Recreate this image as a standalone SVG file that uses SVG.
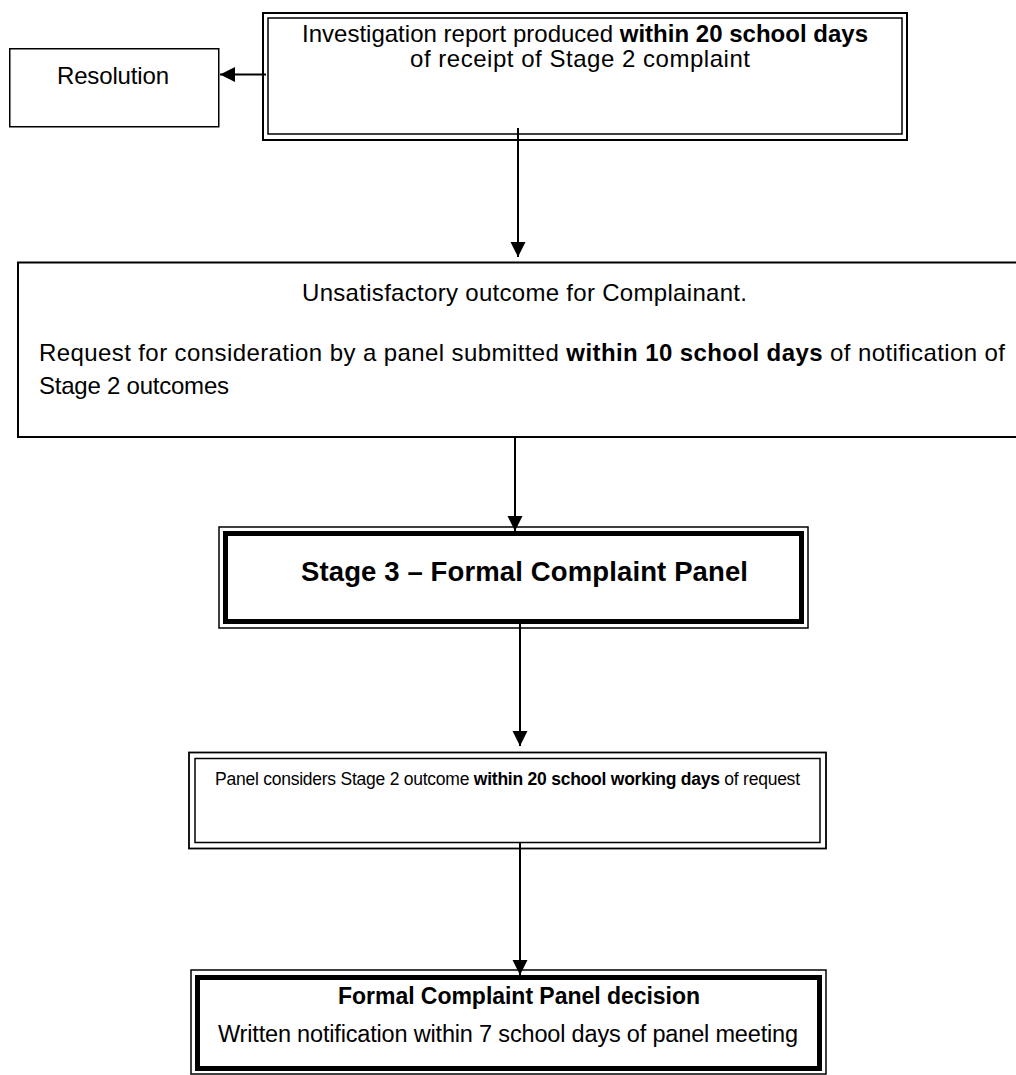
<svg xmlns="http://www.w3.org/2000/svg" width="1016" height="1075" viewBox="0 0 1016 1075">
  <defs>
    <style>
      .box { fill: #ffffff; stroke: #000000; }
      .t { font-family: "Liberation Sans", Arial, sans-serif; font-size: 24px; fill: #000000; }
      .b { font-weight: bold; }
      .conn { stroke: #000000; stroke-width: 2; fill: none; marker-end: url(#arrow); }
    </style>
    <marker id="arrow" markerUnits="userSpaceOnUse" markerWidth="16" markerHeight="16" refX="15" refY="7.5" orient="auto">
      <path d="M0,0 L15,7.5 L0,15 Z" fill="#000000"/>
    </marker>
  </defs>
  <rect width="1016" height="1075" fill="#ffffff"/>

  <g id="node-resolution">
    <rect class="box" x="9.75" y="48.75" width="209" height="78" stroke-width="1.5"/>
    <text class="t" x="57" y="84" textLength="112">Resolution</text>
  </g>

  <g id="node-investigation">
    <rect class="box" x="263" y="13" width="644" height="127" stroke-width="2"/>
    <rect class="box" x="268" y="18" width="634" height="116" stroke-width="1.5"/>
    <text class="t" x="302" y="42" textLength="566">Investigation report produced <tspan class="b">within 20 school days</tspan></text>
    <text class="t" x="410" y="67" textLength="340">of receipt of Stage 2 complaint</text>
  </g>

  <g id="node-unsatisfactory">
    <rect class="box" x="18" y="262.5" width="1020" height="174.5" stroke-width="2"/>
    <text class="t" x="302" y="301" textLength="445">Unsatisfactory outcome for Complainant.</text>
    <text class="t" x="39" y="361" textLength="966">Request for consideration by a panel submitted <tspan class="b">within 10 school days</tspan> of notification of</text>
    <text class="t" x="39" y="394" textLength="190">Stage 2 outcomes</text>
  </g>

  <g id="node-stage3">
    <rect class="box" x="219" y="527" width="589" height="101" stroke-width="1.5"/>
    <rect class="box" x="225.5" y="533.5" width="576" height="88" stroke-width="5"/>
    <text class="t b" x="301" y="581" style="font-size:27.5px" textLength="447">Stage 3 – Formal Complaint Panel</text>
  </g>

  <g id="node-panel">
    <rect class="box" x="189" y="752.5" width="637" height="96" stroke-width="1.8"/>
    <rect class="box" x="195" y="758.5" width="625" height="84" stroke-width="1.5"/>
    <text class="t" x="215" y="785" style="font-size:17.5px" textLength="585">Panel considers Stage 2 outcome <tspan class="b">within 20 school working days</tspan> of request</text>
  </g>

  <g id="node-decision">
    <rect class="box" x="191" y="970" width="635" height="104" stroke-width="1.5"/>
    <rect class="box" x="197.5" y="977.5" width="622" height="91" stroke-width="5"/>
    <text class="t b" x="338" y="1004" style="font-size:23px" textLength="362">Formal Complaint Panel decision</text>
    <text class="t" x="218" y="1042" style="font-size:23.5px" textLength="580">Written notification within 7 school days of panel meeting</text>
  </g>

  <g id="connectors">
    <path class="conn" d="M266,74.5 H220"/>
    <path class="conn" d="M518,128 V257"/>
    <path class="conn" d="M515,437 V531"/>
    <path class="conn" d="M520,624 V746"/>
    <path class="conn" d="M520,843 V975"/>
  </g>
</svg>
